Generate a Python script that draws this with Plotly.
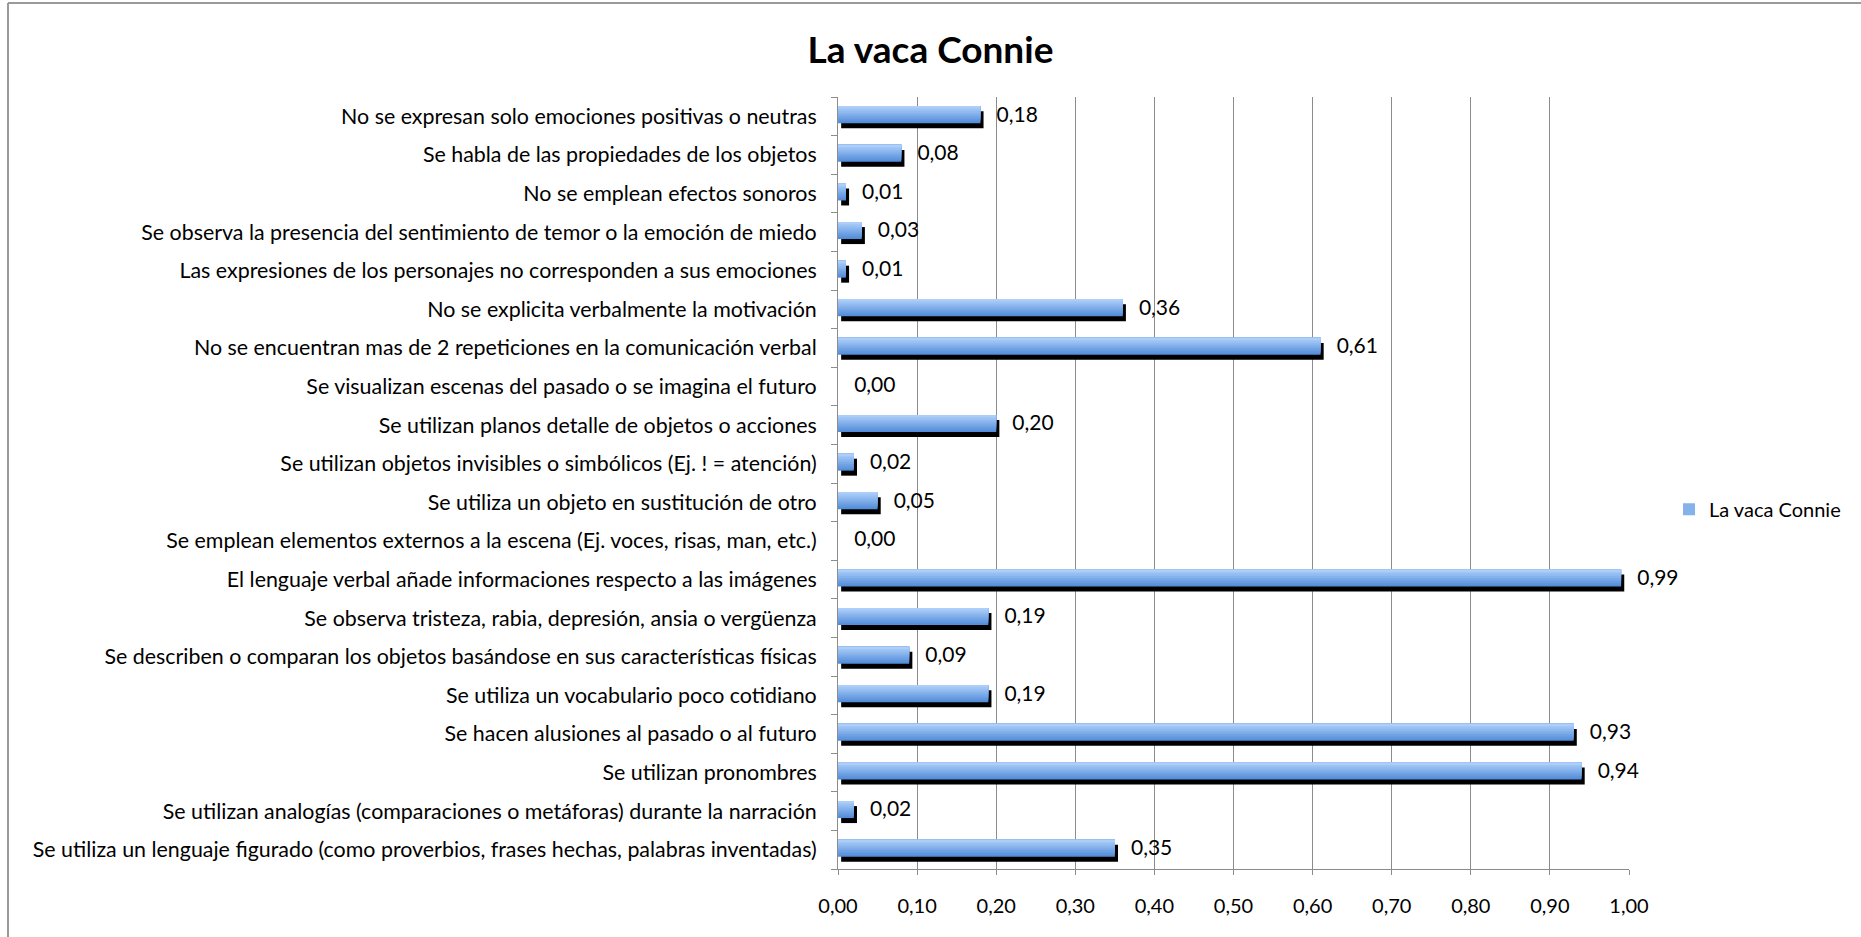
import plotly.graph_objects as go

# Categories listed bottom to top (Plotly puts the first category at the bottom)
categories = [
    "Se utiliza un lenguaje figurado (como proverbios, frases hechas, palabras inventadas)",
    "Se utilizan analogías (comparaciones o metáforas) durante la narración",
    "Se utilizan pronombres",
    "Se hacen alusiones al pasado o al futuro",
    "Se utiliza un vocabulario poco cotidiano",
    "Se describen o comparan los objetos basándose en sus características físicas",
    "Se observa tristeza, rabia, depresión, ansia o vergüenza",
    "El lenguaje verbal añade informaciones respecto a las imágenes",
    "Se emplean elementos externos a la escena (Ej. voces, risas, man, etc.)",
    "Se utiliza un objeto en sustitución de otro",
    "Se utilizan objetos invisibles o simbólicos (Ej. ! = atención)",
    "Se utilizan planos detalle de objetos o acciones",
    "Se visualizan escenas del pasado o se imagina el futuro",
    "No se encuentran mas de 2 repeticiones en la comunicación verbal",
    "No se explicita verbalmente la motivación",
    "Las expresiones de los personajes no corresponden a sus emociones",
    "Se observa la presencia del sentimiento de temor o la emoción de miedo",
    "No se emplean efectos sonoros",
    "Se habla de las propiedades de los objetos",
    "No se expresan solo emociones positivas o neutras",
]
values = [0.35, 0.02, 0.94, 0.93, 0.19, 0.09, 0.19, 0.99, 0.00, 0.05,
          0.02, 0.20, 0.00, 0.61, 0.36, 0.01, 0.03, 0.01, 0.08, 0.18]
series_name = "La vaca Connie"
x_ticks = [i / 10 for i in range(11)]

FONT = "Lato"
bar_w = 0.44
top = 0.26

fig = go.Figure()

# black drop shadow behind each bar
fig.add_trace(go.Bar(
    y=categories, x=values, base=0.004, orientation="h",
    width=bar_w, offset=top - bar_w - 0.13,
    marker=dict(color="black", line=dict(width=0)),
    showlegend=False, hoverinfo="skip",
))

# blue gradient: nested bars, darkest (full height) first, lighter ones stacked on top
light = (172, 206, 249)
dark = (84, 142, 218)
n = 10
h = bar_w / n
for i in range(n - 1, -1, -1):
    t = i / (n - 1)
    c = tuple(round(light[k] + (dark[k] - light[k]) * t) for k in range(3))
    fig.add_trace(go.Bar(
        y=categories, x=values, orientation="h",
        width=(i + 1) * h, offset=top - (i + 1) * h,
        marker=dict(color="rgb(%d,%d,%d)" % c, line=dict(width=0)),
        name=series_name, showlegend=(i == 4),
        hoverinfo="skip",
    ))

# value labels
fig.add_trace(go.Scatter(
    y=categories, x=values, mode="text",
    text=["   " + ("%.2f" % v).replace(".", ",") for v in values],
    textposition="middle right",
    textfont=dict(family=FONT, size=21, color="black"),
    showlegend=False, cliponaxis=False, hoverinfo="skip",
))

# outer chart border (left and top visible)
bx = -(838 - 8) / 791
by = (869 - 3) / 772
fig.add_shape(type="line", xref="paper", yref="paper",
              x0=bx, x1=2, y0=by, y1=by,
              line=dict(color="#9a9a9a", width=2))
fig.add_shape(type="line", xref="paper", yref="paper",
              x0=bx, x1=bx, y0=-1, y1=by,
              line=dict(color="#9a9a9a", width=2))

fig.update_layout(
    width=1861, height=937,
    margin=dict(l=838, r=232, t=97, b=68),
    paper_bgcolor="white", plot_bgcolor="white",
    barmode="overlay", separators=",.",
    title=dict(text="<b>La vaca Connie</b>", x=0.5, xanchor="center",
               y=1 - 50 / 937, yanchor="middle",
               font=dict(family=FONT, size=37, color="black")),
    font=dict(family=FONT, size=21, color="black"),
    legend=dict(x=1.0506, y=0.466, xanchor="left", yanchor="middle",
                font=dict(family=FONT, size=20), itemwidth=30,
                bgcolor="rgba(0,0,0,0)"),
    xaxis=dict(range=[0, 1], tickvals=x_ticks, tickformat=".2f",
               showgrid=True, gridcolor="#8c8c8c", gridwidth=1,
               showline=True, linecolor="#8c8c8c", linewidth=1,
               ticks="outside", ticklen=5, tickcolor="#8c8c8c",
               ticklabelstandoff=14,
               tickfont=dict(family=FONT, size=20), zeroline=False),
    yaxis=dict(categoryorder="array", categoryarray=categories,
               range=[-0.5, len(categories) - 0.5],
               showline=True, linecolor="#8c8c8c", linewidth=1,
               ticks="outside", ticklen=6, tickcolor="#8c8c8c",
               tickson="boundaries", showgrid=False,
               ticklabelstandoff=16,
               tickfont=dict(family=FONT, size=21.4)),
)

# drop the default page margin so the figure sits at the window origin
fig.write_html("out.html", config={"displayModeBar": False},
               post_script="document.body.style.margin='0';")
